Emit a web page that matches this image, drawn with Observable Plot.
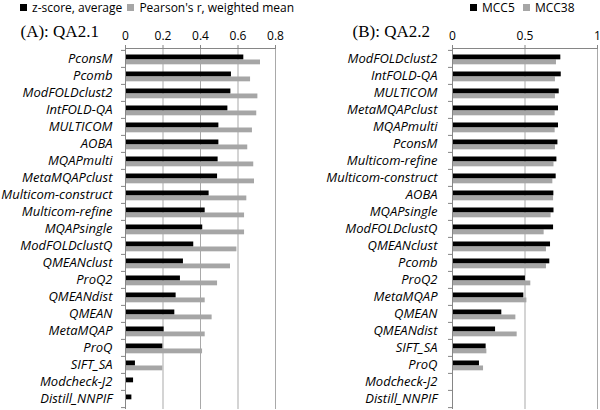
<!DOCTYPE html>
<html>
<head>
<meta charset="utf-8">
<script src="https://cdn.jsdelivr.net/npm/d3@7"></script>
<script src="https://cdn.jsdelivr.net/npm/@observablehq/plot@0.6"></script>
<style>
  body { margin: 0; background: white; }
  #wrap { position: relative; width: 600px; height: 410px; overflow: hidden; background: white; font-family: "Open Sans", sans-serif; }
  .legend { position: absolute; top: 0; height: 16px; font-size: 12px; line-height: 16px; color: #000; white-space: nowrap; z-index: 2; }
  .sw { display: inline-block; width: 7px; height: 7px; margin-right: 5px; vertical-align: 1px; }
  .panel { position: absolute; top: 14px; z-index: 1; }
</style>
</head>
<body>
<div id="wrap">
  <div class="legend" style="left:20px"><span class="sw" style="background:#000"></span>z-score, average <span class="sw" style="background:#a6a6a6;margin-left:2px"></span>Pearson's r, weighted mean</div>
  <div class="legend" style="left:470px"><span class="sw" style="background:#000"></span>MCC5 <span class="sw" style="background:#a6a6a6;margin-left:5px"></span>MCC38</div>
  <div class="panel" id="pa" style="left:0"></div>
  <div class="panel" id="pb" style="left:300px"></div>
</div>
<script>
// Panel A: QA2.1
const namesA = ["PconsM","Pcomb","ModFOLDclust2","IntFOLD-QA","MULTICOM","AOBA","MQAPmulti","MetaMQAPclust","Multicom-construct","Multicom-refine","MQAPsingle","ModFOLDclustQ","QMEANclust","ProQ2","QMEANdist","QMEAN","MetaMQAP","ProQ","SIFT_SA","Modcheck-J2","Distill_NNPIF"];
const zscoreA = [0.631,0.565,0.562,0.546,0.498,0.498,0.494,0.491,0.446,0.425,0.412,0.364,0.309,0.293,0.270,0.263,0.206,0.199,0.053,0.043,0.034];
const pearsonA = [0.720,0.667,0.706,0.700,0.677,0.652,0.684,0.688,0.647,0.635,0.635,0.594,0.560,0.491,0.425,0.462,0.425,0.411,0.199,0,0];
const ticksA = [0,0.2,0.4,0.6,0.8];
const titleA = "(A): QA2.1";

// Panel B: QA2.2
const namesB = ["ModFOLDclust2","IntFOLD-QA","MULTICOM","MetaMQAPclust","MQAPmulti","PconsM","Multicom-refine","Multicom-construct","AOBA","MQAPsingle","ModFOLDclustQ","QMEANclust","Pcomb","ProQ2","MetaMQAP","QMEAN","QMEANdist","SIFT_SA","ProQ","Modcheck-J2","Distill_NNPIF"];
const mcc5B = [0.747,0.750,0.736,0.731,0.731,0.727,0.720,0.715,0.699,0.700,0.697,0.676,0.671,0.503,0.492,0.340,0.297,0.232,0.186,0,0];
const mcc38B = [0.717,0.710,0.710,0.708,0.708,0.710,0.700,0.692,0.697,0.680,0.632,0.648,0.648,0.540,0.513,0.437,0.446,0.237,0.214,0,0];
const ticksB = [0,0.5,1];
const titleB = "(B): QA2.2";

const GRAY = "#a6a6a6";
const AXIS = "#868686";
const GRID = "#a9a9a9";

function panel({names, black, gray, ticks, title, marginLeft, marginRight, labelPad, titleDx}) {
  const height = 396, marginTop = 34, marginBottom = 1;
  const rowH = (height - marginTop - marginBottom) / names.length;
  const rows = names.map((name, i) => ({name, black: black[i], gray: gray[i]}));
  const xmax = ticks[ticks.length - 1];
  return Plot.plot({
    width: 300, height, marginTop, marginBottom, marginLeft, marginRight,
    style: {fontFamily: "'Open Sans', sans-serif", fontSize: "13px", background: "transparent", color: "black", overflow: "visible"},
    x: {domain: [0, xmax], axis: null},
    y: {domain: names, padding: 0, axis: null},
    marks: [
      Plot.gridX(ticks.filter(t => t > 0), {stroke: GRID, strokeOpacity: 1}),
      Plot.frame({anchor: "top", stroke: AXIS}),
      Plot.axisX(ticks, {anchor: "top", tickSize: 4, tickPadding: 5, stroke: AXIS, label: null, fontSize: 12, tickFormat: d => String(d)}),
      Plot.barX(rows, {y: "name", x: "gray", fill: GRAY, insetTop: 9.5, insetBottom: rowH - 14.5}),
      Plot.barX(rows, {y: "name", x: "black", fill: "black", insetTop: 4.5, insetBottom: rowH - 9.5}),
      Plot.ruleX([0], {stroke: AXIS}),
      Plot.ruleY(names, {y: d => d, dy: -rowH / 2, x1: 0, x2: 0, insetLeft: -4, stroke: AXIS}),
      Plot.ruleY(names.slice(-1), {y: d => d, dy: rowH / 2, x1: 0, x2: 0, insetLeft: -4, stroke: AXIS}),
      Plot.axisY({anchor: "left", tickSize: 0, tickPadding: labelPad, label: null, fontStyle: "italic", fontSize: 13}),
      Plot.text([title], {text: d => d, frameAnchor: "top-left", dx: titleDx, dy: -17, textAnchor: "start", lineAnchor: "middle", fontFamily: "Liberation Serif, serif", fontSize: 17})
    ]
  });
}

document.getElementById("pa").append(panel({names: namesA, black: zscoreA, gray: pearsonA, ticks: ticksA, title: titleA, marginLeft: 125, marginRight: 25, labelPad: 13, titleDx: -105}));
document.getElementById("pb").append(panel({names: namesB, black: mcc5B, gray: mcc38B, ticks: ticksB, title: titleB, marginLeft: 152, marginRight: 3, labelPad: 15, titleDx: -100}));
</script>
</body>
</html>
